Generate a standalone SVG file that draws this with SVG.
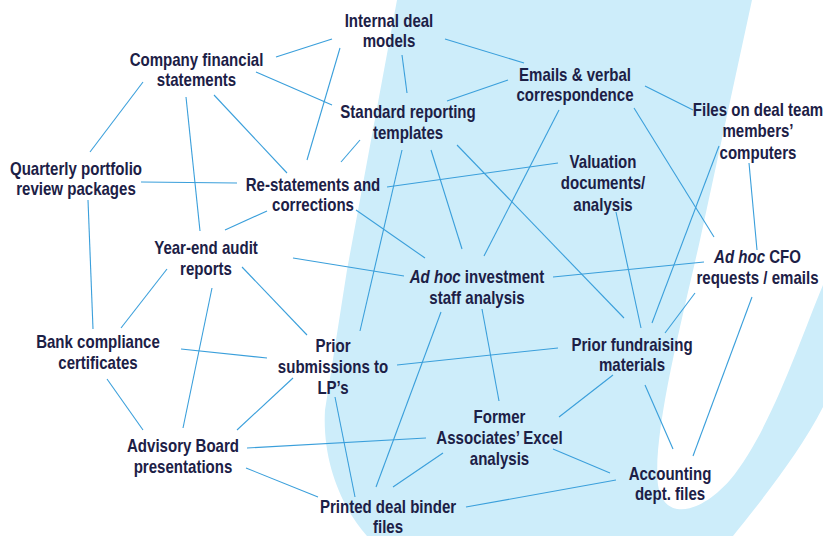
<svg xmlns="http://www.w3.org/2000/svg" width="823" height="536" viewBox="0 0 823 536">
<style>
.t{font-family:"Liberation Sans",Arial,sans-serif;font-weight:bold;font-size:17.5px;fill:#1c2046;text-anchor:middle;transform:scaleX(0.86)}
.i{font-style:italic}
#connectors line{stroke:#3a9fdb;stroke-width:1.1;fill:none}
</style>
<rect width="823" height="536" fill="#ffffff"/>
<path id="band" fill="#cdedfa" d="M397,0 L752,0 L700,240 C682,320 652,435 658,485 C664,522 700,514 730,480 C770,432 800,340 823,285 L823,407 C800,452 762,500 733,536 L367,536 C342,508 322,462 325,410 L347,270 Z"/>
<g id="connectors">
<line x1="276" y1="57" x2="332" y2="39"/>
<line x1="340" y1="48" x2="307" y2="160"/>
<line x1="256" y1="72" x2="332" y2="105"/>
<line x1="143" y1="82" x2="90" y2="152"/>
<line x1="186" y1="97" x2="200" y2="231"/>
<line x1="214" y1="95" x2="287" y2="173"/>
<line x1="360" y1="140" x2="341" y2="162"/>
<line x1="141" y1="182" x2="237" y2="183"/>
<line x1="387" y1="187" x2="558" y2="163"/>
<line x1="267" y1="211" x2="225" y2="230"/>
<line x1="356" y1="210" x2="425" y2="258"/>
<line x1="402" y1="150" x2="360" y2="331"/>
<line x1="293" y1="258" x2="404" y2="276"/>
<line x1="88" y1="200" x2="93" y2="329"/>
<line x1="402" y1="55" x2="407" y2="93"/>
<line x1="445" y1="39" x2="524" y2="63"/>
<line x1="447" y1="101" x2="508" y2="80"/>
<line x1="645" y1="86" x2="693" y2="110"/>
<line x1="559" y1="110" x2="484" y2="256"/>
<line x1="634" y1="108" x2="714" y2="237"/>
<line x1="431" y1="150" x2="462" y2="249"/>
<line x1="457" y1="145" x2="624" y2="318"/>
<line x1="616" y1="212" x2="641" y2="328"/>
<line x1="719" y1="146" x2="652" y2="323"/>
<line x1="749" y1="163" x2="757" y2="250"/>
<line x1="704" y1="262" x2="553" y2="277"/>
<line x1="695" y1="293" x2="665" y2="333"/>
<line x1="752" y1="297" x2="693" y2="456"/>
<line x1="645" y1="385" x2="673" y2="449"/>
<line x1="613" y1="375" x2="559" y2="417"/>
<line x1="558" y1="348" x2="397" y2="365"/>
<line x1="482" y1="309" x2="499" y2="401"/>
<line x1="441" y1="312" x2="376" y2="487"/>
<line x1="553" y1="449" x2="610" y2="473"/>
<line x1="247" y1="448" x2="426" y2="438"/>
<line x1="443" y1="453" x2="393" y2="487"/>
<line x1="616" y1="480" x2="466" y2="507"/>
<line x1="335" y1="397" x2="355" y2="497"/>
<line x1="246" y1="468" x2="318" y2="497"/>
<line x1="293" y1="378" x2="237" y2="430"/>
<line x1="107" y1="379" x2="143" y2="430"/>
<line x1="212" y1="288" x2="183" y2="428"/>
<line x1="167" y1="269" x2="121" y2="328"/>
<line x1="181" y1="349" x2="267" y2="358"/>
<line x1="242" y1="267" x2="307" y2="335"/>
</g>
<g id="n-internal" transform="translate(389,0)"><text class="t"><tspan x="0" y="27">Internal deal</tspan><tspan x="0" y="47.5">models</tspan></text></g>
<g id="n-company" transform="translate(196.5,0)"><text class="t"><tspan x="0" y="66">Company financial</tspan><tspan x="0" y="86.5">statements</tspan></text></g>
<g id="n-emails" transform="translate(575,0)"><text class="t"><tspan x="0" y="81">Emails &amp; verbal</tspan><tspan x="0" y="101.5">correspondence</tspan></text></g>
<g id="n-standard" transform="translate(408,0)"><text class="t"><tspan x="0" y="118.5">Standard reporting</tspan><tspan x="0" y="139">templates</tspan></text></g>
<g id="n-files" transform="translate(758,0)"><text class="t"><tspan x="0" y="116">Files on deal team</tspan><tspan x="0" y="137.5">members’</tspan><tspan x="0" y="159">computers</tspan></text></g>
<g id="n-quarterly" transform="translate(76,0)"><text class="t"><tspan x="0" y="175">Quarterly portfolio</tspan><tspan x="0" y="195.5">review packages</tspan></text></g>
<g id="n-restatements" transform="translate(313,0)"><text class="t"><tspan x="0" y="191">Re-statements and</tspan><tspan x="0" y="211.5">corrections</tspan></text></g>
<g id="n-valuation" transform="translate(603,0)"><text class="t"><tspan x="0" y="168">Valuation</tspan><tspan x="0" y="189.5">documents/</tspan><tspan x="0" y="211">analysis</tspan></text></g>
<g id="n-yearend" transform="translate(206,0)"><text class="t"><tspan x="0" y="254">Year-end audit</tspan><tspan x="0" y="275">reports</tspan></text></g>
<g id="n-adhocinv" transform="translate(477,0)"><text class="t"><tspan x="0" y="283"><tspan class="i">Ad hoc</tspan> investment</tspan><tspan x="0" y="304">staff analysis</tspan></text></g>
<g id="n-adhoccfo" transform="translate(757.5,0)"><text class="t"><tspan x="0" y="263"><tspan class="i">Ad hoc</tspan> CFO</tspan><tspan x="0" y="284">requests / emails</tspan></text></g>
<g id="n-bank" transform="translate(98,0)"><text class="t"><tspan x="0" y="348">Bank compliance</tspan><tspan x="0" y="369">certificates</tspan></text></g>
<g id="n-priorsub" transform="translate(333,0)"><text class="t"><tspan x="0" y="352">Prior</tspan><tspan x="0" y="373">submissions to</tspan><tspan x="0" y="394">LP’s</tspan></text></g>
<g id="n-priorfund" transform="translate(632,0)"><text class="t"><tspan x="0" y="351">Prior fundraising</tspan><tspan x="0" y="371.5">materials</tspan></text></g>
<g id="n-advisory" transform="translate(183,0)"><text class="t"><tspan x="0" y="452">Advisory Board</tspan><tspan x="0" y="473">presentations</tspan></text></g>
<g id="n-former" transform="translate(499.5,0)"><text class="t"><tspan x="0" y="423">Former</tspan><tspan x="0" y="444">Associates’ Excel</tspan><tspan x="0" y="465.5">analysis</tspan></text></g>
<g id="n-accounting" transform="translate(670,0)"><text class="t"><tspan x="0" y="480">Accounting</tspan><tspan x="0" y="500.5">dept. files</tspan></text></g>
<g id="n-printed" transform="translate(388,0)"><text class="t"><tspan x="0" y="513">Printed deal binder</tspan><tspan x="0" y="533">files</tspan></text></g>
</svg>
